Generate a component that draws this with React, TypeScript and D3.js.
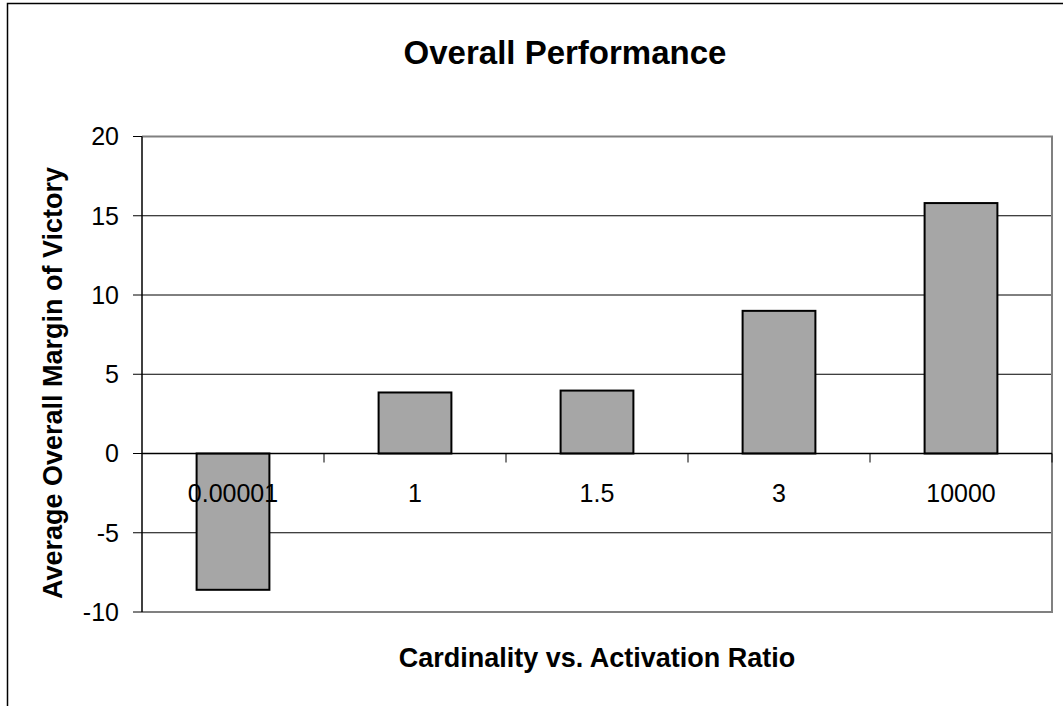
import React from "react";
import * as d3 from "d3";

const categories = ["0.00001", "1", "1.5", "3", "10000"];
const values = [-8.6, 3.85, 3.97, 9.0, 15.8];
const yTicks = [-10, -5, 0, 5, 10, 15, 20];
const title = "Overall Performance";
const xTitle = "Cardinality vs. Activation Ratio";
const yTitle = "Average Overall Margin of Victory";

const W = 1063;
const H = 706;
const plot = { left: 142, right: 1052, top: 136.5, bottom: 612 };
const FONT = "'Liberation Sans', Arial, Helvetica, sans-serif";

export default function App() {
  const x = d3
    .scaleBand<string>()
    .domain(categories)
    .range([plot.left, plot.right])
    .paddingInner(0.6)
    .paddingOuter(0.3);
  const xb = d3.scaleBand<string>().domain(categories).range([plot.left, plot.right]);
  const y = d3.scaleLinear().domain([-10, 20]).range([plot.bottom, plot.top]);
  const y0 = y(0);
  const boundaries = categories.map((c) => (xb(c) as number) + xb.bandwidth());

  return (
    <svg
      width={W}
      height={H}
      style={{ position: "absolute", left: 0, top: 0, background: "#fff" }}
      fontFamily={FONT}
    >
      <rect x={0} y={0} width={W} height={H} fill="#fff" />
      <rect x={7.5} y={3.5} width={1100} height={760} fill="none" stroke="#000" strokeWidth={1.5} />

      {/* title */}
      <text x={565} y={64} textAnchor="middle" fontSize={33} fontWeight="bold">
        {title}
      </text>

      {/* gridlines */}
      {yTicks
        .filter((t) => t !== 0 && t !== 20 && t !== -10)
        .map((t) => (
          <line key={t} x1={plot.left} x2={plot.right} y1={y(t)} y2={y(t)} stroke="#000" strokeWidth={1} />
        ))}

      {/* plot border (gray) */}
      <path
        d={`M${plot.left},${plot.top}H${plot.right}V${plot.bottom}H${plot.left}`}
        fill="none"
        stroke="#808080"
        strokeWidth={2}
      />

      {/* bars */}
      {categories.map((c, i) => {
        const v = values[i];
        const top = Math.min(y(v), y0);
        const h = Math.abs(y(v) - y0);
        return (
          <rect
            key={c}
            x={x(c)}
            y={top}
            width={x.bandwidth()}
            height={h}
            fill="#a6a6a6"
            stroke="#000"
            strokeWidth={2}
          />
        );
      })}

      {/* y axis */}
      <line x1={plot.left} x2={plot.left} y1={plot.top} y2={plot.bottom} stroke="#000" strokeWidth={1.5} />
      {yTicks.map((t) => (
        <g key={t}>
          <line x1={plot.left - 9} x2={plot.left} y1={y(t)} y2={y(t)} stroke="#000" strokeWidth={1} />
          <text x={119} y={y(t)} dy="0.35em" textAnchor="end" fontSize={25}>
            {t}
          </text>
        </g>
      ))}

      {/* category axis at zero */}
      <line x1={plot.left} x2={plot.right} y1={y0} y2={y0} stroke="#000" strokeWidth={1.5} />
      {boundaries.map((b, i) => (
        <line key={i} x1={b} x2={b} y1={y0} y2={y0 + 9} stroke="#000" strokeWidth={1} />
      ))}
      {categories.map((c) => (
        <text key={c} x={(xb(c) as number) + xb.bandwidth() / 2} y={502} textAnchor="middle" fontSize={25}>
          {c}
        </text>
      ))}

      {/* axis titles */}
      <text x={(plot.left + plot.right) / 2} y={667} textAnchor="middle" fontSize={27} fontWeight="bold">
        {xTitle}
      </text>
      <text
        transform={`translate(62, 383) rotate(-90)`}
        textAnchor="middle"
        fontSize={27}
        fontWeight="bold"
      >
        {yTitle}
      </text>
    </svg>
  );
}
